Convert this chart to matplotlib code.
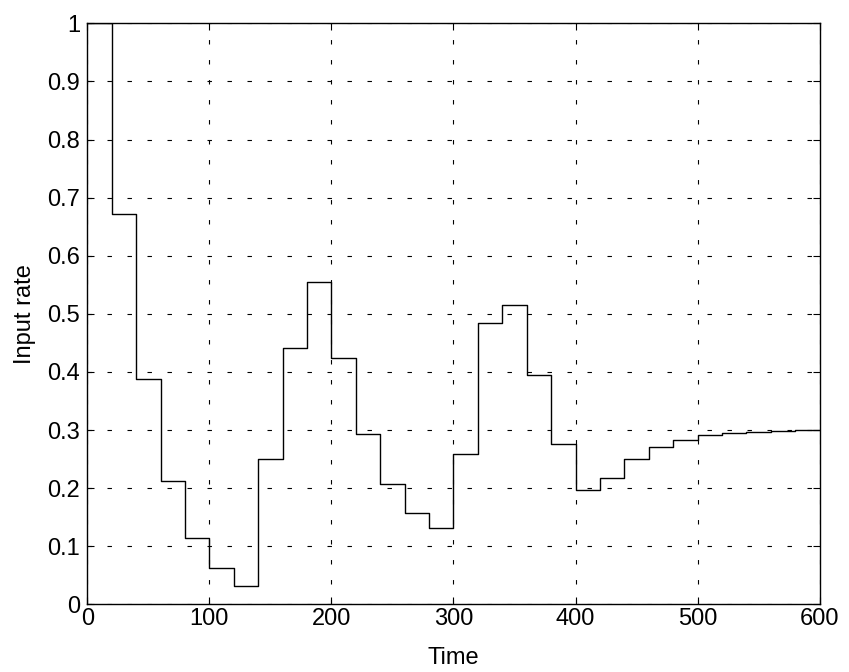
import matplotlib
matplotlib.use("Agg")
import matplotlib.pyplot as plt
import numpy as np

# step start times (each step lasts 20 time units)
times = [0, 20, 40, 60, 80, 100, 120, 140, 160, 180, 200, 220, 240, 260, 280,
         300, 320, 340, 360, 380, 400, 420, 440, 460, 480, 500, 520, 540, 560, 580]
rates = [1.0, 0.671, 0.387, 0.212, 0.114, 0.062, 0.032, 0.250, 0.442, 0.555,
         0.424, 0.293, 0.207, 0.158, 0.131, 0.259, 0.485, 0.516, 0.395, 0.276,
         0.197, 0.217, 0.250, 0.270, 0.283, 0.291, 0.295, 0.297, 0.299, 0.300]
t_end = 600

xticks = [0, 100, 200, 300, 400, 500, 600]
yticks = [0, 0.1, 0.2, 0.3, 0.4, 0.5, 0.6, 0.7, 0.8, 0.9, 1.0]
yticklabels = ["0", "0.1", "0.2", "0.3", "0.4", "0.5", "0.6", "0.7", "0.8", "0.9", "1"]

plt.rcParams['font.family'] = ['Liberation Sans', 'DejaVu Sans']

fig = plt.figure(figsize=(8.49, 6.72), dpi=100)
ax = fig.add_axes([0.1028, 0.1007, 0.9655 - 0.1028, 0.9653 - 0.1007])

x = list(times) + [t_end]
y = list(rates) + [rates[-1]]
ax.step(x, y, where='post', color='black', lw=1.0, zorder=3)

ax.set_xlim(0, 600)
ax.set_ylim(0, 1)
ax.set_xticks(xticks)
ax.set_yticks(yticks)
ax.set_yticklabels(yticklabels)
ax.grid(True, color='black', linestyle=(0, (4, 14)), linewidth=0.8)

ax.tick_params(direction='in', length=5, width=0.8, labelsize=17,
               top=True, right=True, colors='black')
ax.tick_params(axis='x', pad=3)
ax.tick_params(axis='y', pad=5)
for s in ax.spines.values():
    s.set_linewidth(1.0)
    s.set_color('black')

ax.set_xlabel("Time", fontsize=17, labelpad=12)
ax.set_ylabel("Input rate", fontsize=17, labelpad=8)

fig.savefig("out.png", dpi=100)
